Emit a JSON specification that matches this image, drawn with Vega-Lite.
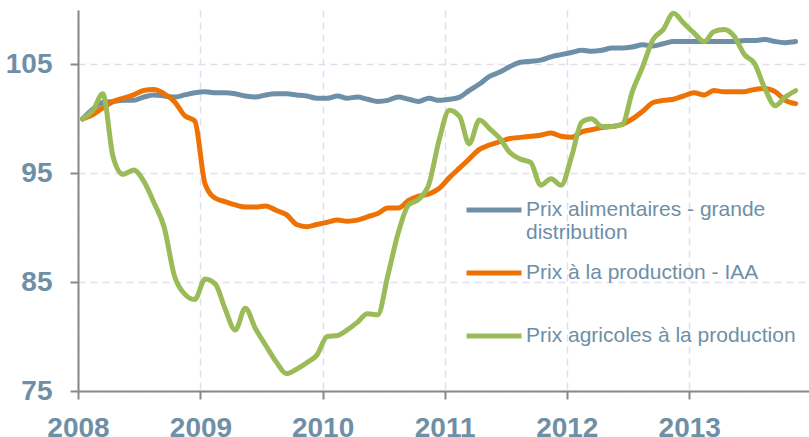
{
  "$schema": "https://vega.github.io/schema/vega-lite/v6.json",
  "width": 731,
  "height": 381,
  "autosize": {"type": "none"},
  "padding": {"left": 78, "top": 10, "right": 0, "bottom": 46},
  "background": "white",
  "config": {"view": {"stroke": null}, "font": "Liberation Sans"},
  "data": {"values": [
    {"d": "2008-01-15", "A": 100.0, "I": 100.0, "G": 100.0},
    {"d": "2008-02-15", "A": 100.9, "I": 100.4, "G": 100.8},
    {"d": "2008-03-15", "A": 101.5, "I": 101.0, "G": 102.3},
    {"d": "2008-04-15", "A": 101.6, "I": 101.6, "G": 96.5},
    {"d": "2008-05-15", "A": 101.7, "I": 101.9, "G": 94.9},
    {"d": "2008-06-15", "A": 101.7, "I": 102.2, "G": 95.3},
    {"d": "2008-07-15", "A": 102.0, "I": 102.6, "G": 94.3},
    {"d": "2008-08-15", "A": 102.2, "I": 102.7, "G": 92.3},
    {"d": "2008-09-15", "A": 102.1, "I": 102.3, "G": 90.0},
    {"d": "2008-10-15", "A": 102.0, "I": 101.6, "G": 85.6},
    {"d": "2008-11-15", "A": 102.2, "I": 100.3, "G": 83.9},
    {"d": "2008-12-15", "A": 102.4, "I": 99.8, "G": 83.4},
    {"d": "2009-01-15", "A": 102.5, "I": 94.0, "G": 85.3},
    {"d": "2009-02-15", "A": 102.4, "I": 92.7, "G": 84.8},
    {"d": "2009-03-15", "A": 102.4, "I": 92.4, "G": 82.6},
    {"d": "2009-04-15", "A": 102.3, "I": 92.1, "G": 80.6},
    {"d": "2009-05-15", "A": 102.1, "I": 91.9, "G": 82.6},
    {"d": "2009-06-15", "A": 102.0, "I": 91.9, "G": 80.7},
    {"d": "2009-07-15", "A": 102.2, "I": 92.0, "G": 79.2},
    {"d": "2009-08-15", "A": 102.3, "I": 91.6, "G": 77.7},
    {"d": "2009-09-15", "A": 102.3, "I": 91.2, "G": 76.6},
    {"d": "2009-10-15", "A": 102.2, "I": 90.3, "G": 77.0},
    {"d": "2009-11-15", "A": 102.1, "I": 90.1, "G": 77.6},
    {"d": "2009-12-15", "A": 101.9, "I": 90.3, "G": 78.3},
    {"d": "2010-01-15", "A": 101.9, "I": 90.5, "G": 80.0},
    {"d": "2010-02-15", "A": 102.1, "I": 90.7, "G": 80.1},
    {"d": "2010-03-15", "A": 101.9, "I": 90.6, "G": 80.6},
    {"d": "2010-04-15", "A": 102.0, "I": 90.7, "G": 81.3},
    {"d": "2010-05-15", "A": 101.8, "I": 91.0, "G": 82.1},
    {"d": "2010-06-15", "A": 101.6, "I": 91.3, "G": 82.0},
    {"d": "2010-07-15", "A": 101.7, "I": 91.8, "G": 85.6},
    {"d": "2010-08-15", "A": 102.0, "I": 91.8, "G": 89.5},
    {"d": "2010-09-15", "A": 101.8, "I": 92.5, "G": 92.1},
    {"d": "2010-10-15", "A": 101.6, "I": 92.9, "G": 92.6},
    {"d": "2010-11-15", "A": 101.9, "I": 93.1, "G": 94.0},
    {"d": "2010-12-15", "A": 101.7, "I": 93.6, "G": 98.0},
    {"d": "2011-01-15", "A": 101.8, "I": 94.6, "G": 100.8},
    {"d": "2011-02-15", "A": 102.0, "I": 95.5, "G": 100.2},
    {"d": "2011-03-15", "A": 102.6, "I": 96.3, "G": 97.7},
    {"d": "2011-04-15", "A": 103.2, "I": 97.2, "G": 99.9},
    {"d": "2011-05-15", "A": 103.9, "I": 97.6, "G": 99.1},
    {"d": "2011-06-15", "A": 104.3, "I": 97.9, "G": 98.2},
    {"d": "2011-07-15", "A": 104.8, "I": 98.2, "G": 96.9},
    {"d": "2011-08-15", "A": 105.2, "I": 98.3, "G": 96.3},
    {"d": "2011-09-15", "A": 105.3, "I": 98.4, "G": 96.0},
    {"d": "2011-10-15", "A": 105.4, "I": 98.5, "G": 93.9},
    {"d": "2011-11-15", "A": 105.7, "I": 98.7, "G": 94.5},
    {"d": "2011-12-15", "A": 105.9, "I": 98.4, "G": 93.9},
    {"d": "2012-01-15", "A": 106.1, "I": 98.3, "G": 96.5},
    {"d": "2012-02-15", "A": 106.3, "I": 98.8, "G": 99.7},
    {"d": "2012-03-15", "A": 106.2, "I": 99.0, "G": 100.0},
    {"d": "2012-04-15", "A": 106.3, "I": 99.2, "G": 99.3},
    {"d": "2012-05-15", "A": 106.5, "I": 99.3, "G": 99.3},
    {"d": "2012-06-15", "A": 106.5, "I": 99.5, "G": 99.5},
    {"d": "2012-07-15", "A": 106.6, "I": 100.0, "G": 102.5},
    {"d": "2012-08-15", "A": 106.8, "I": 100.7, "G": 104.8},
    {"d": "2012-09-15", "A": 106.7, "I": 101.5, "G": 107.3},
    {"d": "2012-10-15", "A": 106.9, "I": 101.7, "G": 108.2},
    {"d": "2012-11-15", "A": 107.1, "I": 101.8, "G": 109.7},
    {"d": "2012-12-15", "A": 107.1, "I": 102.1, "G": 108.8},
    {"d": "2013-01-15", "A": 107.1, "I": 102.4, "G": 107.9},
    {"d": "2013-02-15", "A": 107.1, "I": 102.2, "G": 107.1},
    {"d": "2013-03-15", "A": 107.1, "I": 102.6, "G": 108.0},
    {"d": "2013-04-15", "A": 107.1, "I": 102.5, "G": 108.2},
    {"d": "2013-05-15", "A": 107.1, "I": 102.5, "G": 107.6},
    {"d": "2013-06-15", "A": 107.2, "I": 102.5, "G": 105.9},
    {"d": "2013-07-15", "A": 107.2, "I": 102.7, "G": 105.1},
    {"d": "2013-08-15", "A": 107.3, "I": 102.8, "G": 102.8},
    {"d": "2013-09-15", "A": 107.1, "I": 102.5, "G": 101.2},
    {"d": "2013-10-15", "A": 107.0, "I": 101.7, "G": 102.0},
    {"d": "2013-11-15", "A": 107.1, "I": 101.4, "G": 102.6}
  ]},
  "transform": [{"fold": ["A", "I", "G"], "as": ["s", "v"]}],
  "mark": {"type": "line", "interpolate": "monotone", "strokeWidth": 5, "strokeCap": "round", "strokeJoin": "round"},
  "encoding": {
    "x": {
      "field": "d", "type": "temporal",
      "scale": {"domain": [{"year": 2008, "month": 1, "date": 1}, {"year": 2013, "month": 12, "date": 25}]},
      "axis": {
        "title": null, "format": "%Y", "tickCount": {"interval": "year", "step": 1},
        "labelFont": "Liberation Sans", "labelFontWeight": "bold", "labelFontSize": 28,
        "labelColor": "#6e8fa6", "labelPadding": 15, "labelFlush": false, "labelOverlap": false, "labelBound": false,
        "domainColor": "#888888", "domainWidth": 2, "tickColor": "#888888", "tickWidth": 2, "tickSize": 8,
        "grid": true, "gridColor": "#e2deee", "gridDash": [7, 5], "gridWidth": 1.5
      }
    },
    "y": {
      "field": "v", "type": "quantitative",
      "scale": {"domain": [75, 110], "nice": false, "zero": false},
      "axis": {
        "title": null, "values": [75, 85, 95, 105],
        "labelFont": "Liberation Sans", "labelFontWeight": "bold", "labelFontSize": 28,
        "labelColor": "#6e8fa6", "labelPadding": 18, "labelFlush": false, "labelOverlap": false,
        "domainColor": "#888888", "domainWidth": 2, "tickColor": "#888888", "tickWidth": 2, "tickSize": 8,
        "grid": true, "gridColor": "#e2deee", "gridDash": [7, 5], "gridWidth": 1.5
      }
    },
    "color": {
      "field": "s", "type": "nominal",
      "scale": {"domain": ["A", "I", "G"], "range": ["#6e8fa8", "#ee7203", "#9bbb59"]},
      "legend": {
        "orient": "none", "legendX": 386, "legendY": 170, "title": null, "padding": 0,
        "symbolType": "stroke", "symbolSize": 3025, "symbolStrokeWidth": 5,
        "labelFont": "Liberation Sans", "labelFontSize": 21, "labelColor": "#6e8fa6",
        "labelLimit": 500, "labelOffset": 2, "rowPadding": -3,
        "labelExpr": "datum.value == 'A' ? ['Prix alimentaires - grande', 'distribution'] : datum.value == 'I' ? ['Prix à la production - IAA', ''] : ['Prix agricoles à la production', '']"
      }
    }
  }
}
